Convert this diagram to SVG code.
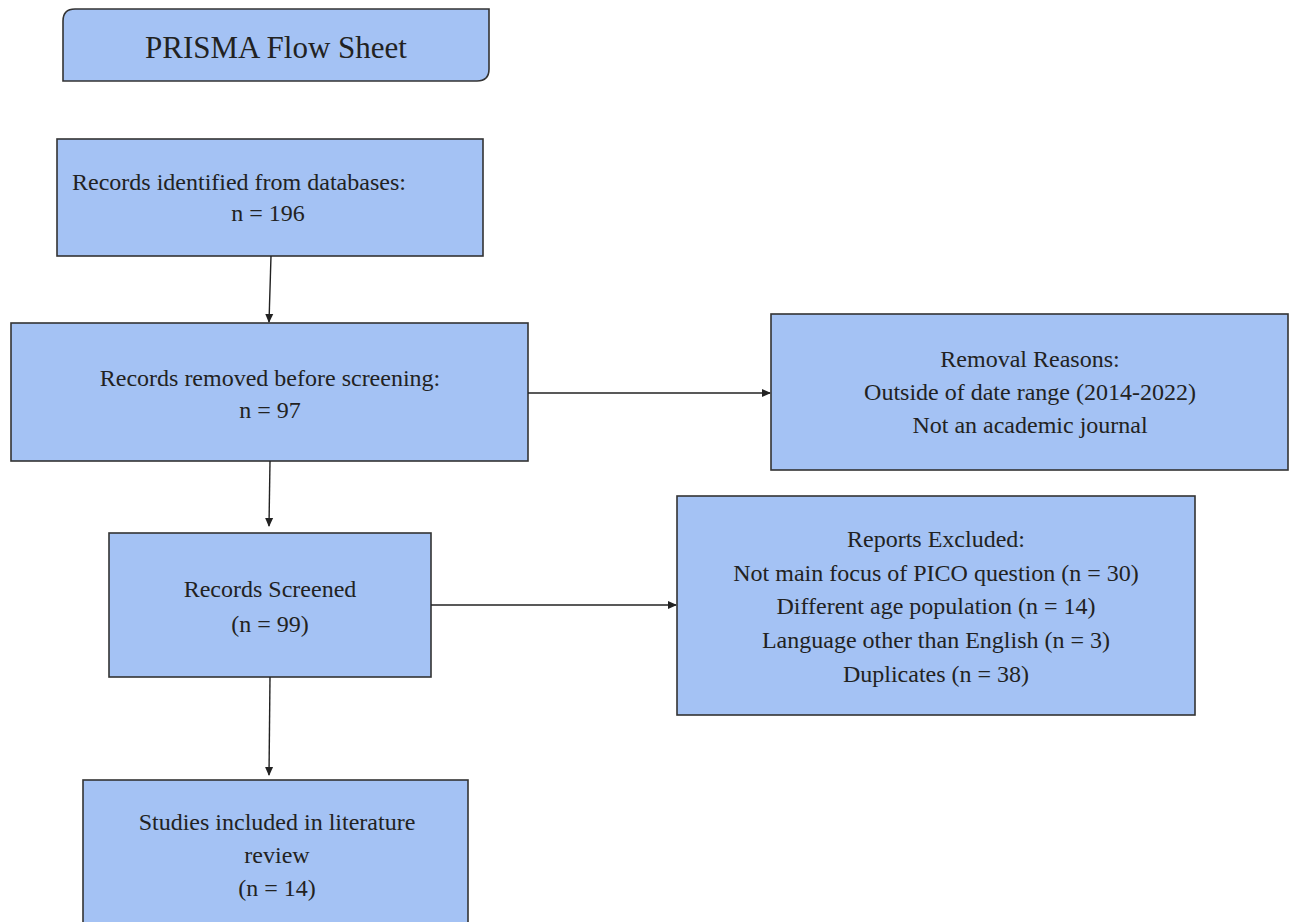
<svg xmlns="http://www.w3.org/2000/svg" width="1290" height="922" viewBox="0 0 1290 922">
<defs>
<style>
.box{fill:#a4c2f4;stroke:#333;stroke-width:1.6}
text{font-family:"Liberation Serif","Times New Roman",serif;fill:#222;font-size:24px;text-anchor:middle}
.title{font-size:31px}
.conn line{stroke:#222;stroke-width:1.4;fill:none}
</style>
<marker id="arr" markerWidth="10" markerHeight="10" refX="8" refY="5" orient="auto" markerUnits="userSpaceOnUse">
<path d="M0,1 L9,5 L0,9 Z" fill="#222"/>
</marker>
</defs>
<rect width="1290" height="922" fill="#fff"/>
<g id="title">
<path class="box" d="M75,9 H489 V69 Q489,81 477,81 H63 V21 Q63,9 75,9 Z"/>
<text class="title" x="276" y="58">PRISMA Flow Sheet</text>
</g>
<g id="identified">
<rect class="box" x="57" y="139" width="426" height="117"/>
<text x="72" y="190" style="text-anchor:start">Records identified from databases:</text>
<text x="268" y="221">n = 196</text>
</g>
<g id="removed">
<rect class="box" x="11" y="323" width="517" height="138"/>
<text x="270" y="386">Records removed before screening:</text>
<text x="270" y="418">n = 97</text>
</g>
<g id="reasons">
<rect class="box" x="771" y="314" width="517" height="156"/>
<text x="1030" y="367">Removal Reasons:</text>
<text x="1030" y="400">Outside of date range (2014-2022)</text>
<text x="1030" y="433">Not an academic journal</text>
</g>
<g id="screened">
<rect class="box" x="109" y="533" width="322" height="144"/>
<text x="270" y="597">Records Screened</text>
<text x="270" y="632">(n = 99)</text>
</g>
<g id="excluded">
<rect class="box" x="677" y="496" width="518" height="219"/>
<text x="936" y="547">Reports Excluded:</text>
<text x="936" y="581">Not main focus of PICO question (n = 30)</text>
<text x="936" y="614">Different age population (n = 14)</text>
<text x="936" y="648">Language other than English (n = 3)</text>
<text x="936" y="682">Duplicates (n = 38)</text>
</g>
<g id="included">
<rect class="box" x="83" y="780" width="385" height="150"/>
<text x="277" y="830">Studies included in literature</text>
<text x="277" y="863">review</text>
<text x="277" y="896">(n = 14)</text>
</g>
<g class="conn" id="connectors">
<line x1="271" y1="256" x2="269" y2="322" marker-end="url(#arr)"/>
<line x1="528" y1="393" x2="770" y2="393" marker-end="url(#arr)"/>
<line x1="270" y1="461" x2="269" y2="526" marker-end="url(#arr)"/>
<line x1="431" y1="605" x2="676" y2="605" marker-end="url(#arr)"/>
<line x1="270" y1="677" x2="269" y2="775" marker-end="url(#arr)"/>
</g>
</svg>
